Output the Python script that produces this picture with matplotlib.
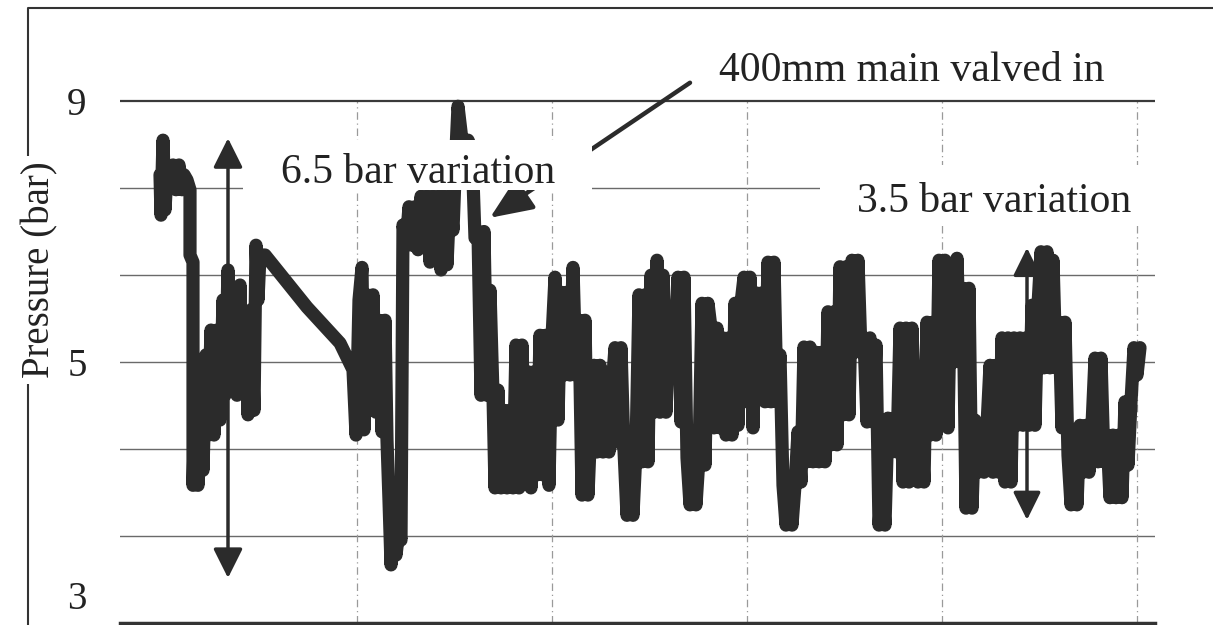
import matplotlib
matplotlib.use("Agg")
import matplotlib.pyplot as plt
from matplotlib.lines import Line2D
from matplotlib.patches import Rectangle

plt.rcParams['font.family'] = ['Liberation Serif', 'DejaVu Serif']
plt.rcParams['path.simplify'] = False

# ---- data: logged pressure (bar) against sample number ----
time = [0, 1, 3, 5, 7, 10, 13, 16, 19, 22, 24, 27, 30, 30, 33, 33, 36, 38, 40, 43,
        46, 48, 51, 54, 57, 60, 63, 65, 68, 71, 74, 77, 80, 82, 85, 88, 91, 94, 96, 98,
        100, 105, 147, 180, 193, 196, 199, 202, 204, 207, 210, 213, 216, 219, 222, 225, 227, 229, 231, 233,
        236, 239, 241, 243, 246, 249, 252, 255, 258, 261, 264, 267, 270, 273, 276, 279, 281, 284, 287, 290,
        293, 296, 298, 302, 308, 312, 315, 318, 321, 324, 327, 330, 333, 335, 338, 341, 344, 347, 350, 353,
        356, 359, 362, 365, 368, 371, 374, 377, 380, 383, 386, 389, 392, 395, 398, 401, 404, 407, 410, 413,
        416, 419, 422, 425, 428, 431, 434, 437, 440, 443, 446, 449, 452, 455, 458, 461, 464, 467, 470, 473,
        476, 479, 482, 485, 488, 491, 494, 497, 500, 503, 506, 509, 512, 515, 518, 521, 524, 527, 530, 533,
        536, 539, 542, 545, 548, 551, 554, 557, 560, 563, 566, 569, 572, 575, 578, 581, 584, 587, 590, 593,
        596, 599, 602, 605, 608, 611, 614, 617, 620, 623, 626, 629, 632, 635, 638, 641, 644, 647, 650, 653,
        656, 659, 662, 665, 668, 671, 674, 677, 680, 683, 686, 689, 692, 695, 698, 701, 704, 707, 710, 713,
        716, 719, 722, 725, 728, 731, 734, 737, 740, 743, 746, 749, 752, 755, 758, 761, 764, 767, 770, 773,
        776, 779, 782, 785, 788, 791, 794, 797, 800, 803, 806, 809, 812, 815, 818, 821, 824, 827, 830, 833,
        836, 839, 842, 845, 848, 851, 854, 857, 860, 863, 866, 869, 872, 875, 878, 881, 884, 887, 890, 893,
        896, 899, 902, 905, 908, 911, 914, 917, 920, 923, 926, 929, 932, 935, 938, 941, 944, 947, 950, 953,
        956, 959, 962, 965, 968, 971, 974, 977, 980]
pressure = [7.87, 7.25, 8.40, 7.33, 7.90, 7.79, 8.02, 7.64, 8.02, 7.64, 7.87, 7.79, 7.64, 6.64, 6.53, 3.11, 4.95, 3.11, 5.03, 3.34,
            5.11, 3.88, 5.49, 3.88, 5.49, 4.11, 5.95, 4.49, 6.41, 4.57, 5.95, 4.49, 6.18, 4.57, 5.72, 4.19, 5.80, 4.26, 6.79, 5.95,
            6.64, 6.64, 5.84, 5.29, 4.88, 3.88, 5.95, 6.45, 3.96, 6.03, 4.26, 6.03, 4.23, 5.64, 3.93, 5.64, 3.80, 2.88, 1.89, 2.58,
            2.04, 2.43, 2.27, 7.10, 6.79, 7.38, 6.79, 7.38, 6.72, 7.54, 6.87, 7.54, 6.53, 7.54, 6.72, 7.54, 6.41, 7.54, 6.49, 7.54,
            7.02, 8.25, 8.92, 8.40, 8.40, 8.25, 6.90, 7.00, 4.49, 7.00, 4.49, 6.10, 4.49, 3.07, 4.57, 3.07, 4.26, 3.07, 4.26, 3.07,
            5.26, 3.07, 5.26, 3.34, 4.85, 3.07, 4.85, 3.27, 5.41, 3.27, 5.41, 3.11, 5.37, 6.30, 4.11, 6.07, 4.80, 6.07, 4.80, 6.45,
            4.80, 5.64, 2.96, 5.64, 2.96, 4.08, 4.95, 3.62, 4.95, 3.62, 4.60, 3.62, 4.60, 5.22, 3.77, 5.22, 3.65, 2.65, 3.65, 2.65,
            3.65, 6.03, 3.47, 6.03, 3.47, 6.33, 4.23, 6.56, 4.23, 6.33, 4.23, 5.46, 4.91, 5.46, 6.30, 4.08, 6.30, 3.53, 2.81, 3.53,
            2.81, 3.53, 5.90, 3.42, 5.90, 5.52, 3.99, 5.52, 3.99, 5.37, 3.88, 5.37, 3.88, 5.90, 4.03, 5.90, 6.30, 4.39, 6.30, 3.99,
            6.06, 4.49, 6.06, 4.39, 6.53, 4.39, 6.53, 4.39, 5.11, 3.11, 2.50, 3.11, 2.50, 3.11, 3.93, 3.16, 5.23, 3.47, 5.23, 3.47,
            5.15, 3.47, 5.15, 3.47, 5.77, 3.73, 5.77, 3.73, 6.46, 4.19, 6.46, 4.19, 6.56, 5.15, 6.56, 5.15, 5.37, 4.08, 5.37, 4.08,
            5.26, 2.50, 3.19, 2.50, 4.14, 3.62, 4.14, 3.62, 5.52, 3.16, 5.52, 3.16, 5.52, 4.14, 3.16, 4.14, 3.16, 5.61, 3.88, 5.61,
            3.88, 6.56, 4.34, 6.56, 3.99, 6.44, 5.00, 6.59, 5.00, 6.13, 2.76, 6.13, 2.76, 4.11, 3.31, 4.03, 3.31, 4.03, 4.95, 3.31,
            4.95, 3.31, 5.37, 3.16, 5.37, 3.16, 5.37, 4.03, 5.37, 4.03, 5.37, 4.03, 5.87, 4.03, 5.87, 6.69, 4.91, 6.69, 4.91, 6.56,
            4.91, 5.61, 3.99, 5.61, 3.57, 2.81, 3.57, 2.81, 4.03, 3.31, 4.03, 3.31, 4.03, 5.06, 3.47, 5.06, 3.47, 3.88, 2.92, 3.88,
            2.92, 3.88, 2.92, 4.39, 3.42, 4.39, 5.22, 4.80, 5.22]

ytick_values = [9, 5, 1.43]
ytick_labels = ['9', '5', '3']
grid_y = [7.667, 6.333, 5, 3.667, 2.333]
grid_x = [197, 392, 587, 782, 977]

W, H = 1213, 625
ink = '#2b2b2b'

fig = plt.figure(figsize=(W / 100, H / 100), dpi=100)
ax = fig.add_axes([120 / W, 1 - 623 / H, 1035 / W, (623 - 40) / H])
ax.set_xlim(-40, 995)
ax.set_ylim(1.0, 9.935)

# grid
for gy in grid_y:
    ax.axhline(gy, color='#6a6a6a', lw=1.0, zorder=0)
ax.axhline(9, color='#3a3a3a', lw=1.6, zorder=1)
ax.vlines(grid_x, 1.0, 9.0, color='#9a9a9a', lw=0.9, linestyles=[(0, (6, 3, 1, 3))], zorder=0)

ax.set_xticks([])
ax.set_yticks(ytick_values, labels=ytick_labels)
ax.tick_params(axis='y', which='both', length=0, pad=24, labelsize=28, labelcolor='#222222')
for s in ['left', 'right', 'top']:
    ax.spines[s].set_visible(False)
ax.spines['bottom'].set_color('#333333')
ax.spines['bottom'].set_linewidth(2.5)

# pressure trace
trace, = ax.plot(time, pressure, color=ink, lw=9.5, solid_joinstyle='round',
                 solid_capstyle='round', zorder=3)
trace.get_path().should_simplify = False

# variation arrows
ax.annotate('', xy=(68, 8.43), xytext=(68, 1.69),
            arrowprops=dict(arrowstyle='<|-|>,head_length=0.9,head_width=0.45',
                            lw=2.5, color=ink, shrinkA=0, shrinkB=0, mutation_scale=20),
            zorder=4)
ax.annotate('', xy=(867, 6.75), xytext=(867, 2.58),
            arrowprops=dict(arrowstyle='<|-|>,head_length=0.85,head_width=0.42',
                            lw=2.5, color=ink, shrinkA=0, shrinkB=0, mutation_scale=20),
            zorder=4)

# valve-in annotation arrow
ax.annotate('', xy=(330, 7.21), xytext=(530, 9.28),
            arrowprops=dict(arrowstyle='-|>,head_length=1.3,head_width=0.55',
                            lw=3.2, color=ink, shrinkA=0, shrinkB=0, mutation_scale=20),
            zorder=4, annotation_clip=False)

# label boxes
ax.add_patch(Rectangle((83, 7.64), 349, 0.76, fc='white', ec='none', zorder=5))
ax.add_patch(Rectangle((660, 7.10), 340, 0.92, fc='white', ec='none', zorder=5, clip_on=False))
ax.text(258, 7.74, '6.5 bar variation', ha='center', va='baseline', fontsize=30,
        color='#222222', zorder=6)
ax.text(834, 7.30, '3.5 bar variation', ha='center', va='baseline', fontsize=30,
        color='#222222', zorder=6)
ax.text(752, 9.31, '400mm main valved in', ha='center', va='baseline', fontsize=30,
        color='#222222', zorder=6, clip_on=False)

# outer chart frame
fig.add_artist(Line2D([28 / W, 28 / W, 1.0], [0, 1 - 8 / H, 1 - 8 / H],
                      transform=fig.transFigure, color='#333333', lw=1.5))
fig.text(40 / W, 1 - 270 / H, 'Pressure (bar)', rotation=90, ha='center', va='center',
         fontsize=28, color='#222222',
         bbox=dict(boxstyle='square,pad=0.15', fc='white', ec='none'))

fig.savefig('out.png', dpi=100)
